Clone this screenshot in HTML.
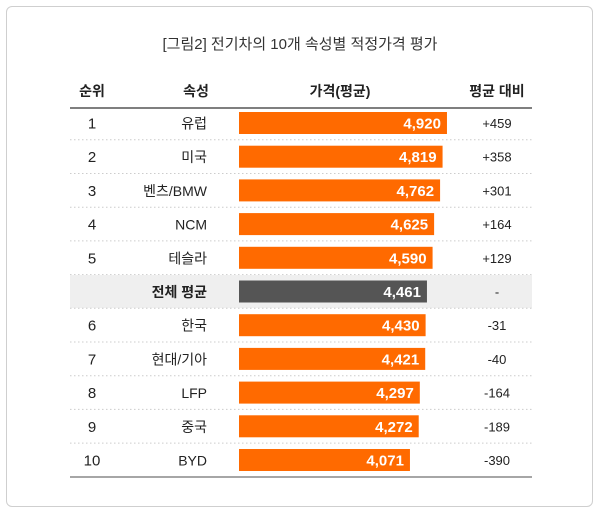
<!DOCTYPE html>
<html><head><meta charset="utf-8"><style>
body{margin:0;background:#fff;width:600px;height:514px;overflow:hidden;font-family:"Liberation Sans","Noto Sans CJK KR",sans-serif;}
#frame{position:absolute;left:6px;top:6px;width:587px;height:501px;border:1px solid #cfcfcf;border-radius:6px;box-sizing:border-box;}
</style></head><body>
<div id="frame"></div>
<svg id="chart" width="600" height="514" style="position:absolute;left:0;top:0"></svg>
<script>
const ranks=["1","2","3","4","5","","6","7","8","9","10"];
const labels=["유럽","미국","벤츠/BMW","NCM","테슬라","전체 평균","한국","현대/기아","LFP","중국","BYD"];
const values=[4920,4819,4762,4625,4590,4461,4430,4421,4297,4272,4071];
const valueLabels=["4,920","4,819","4,762","4,625","4,590","4,461","4,430","4,421","4,297","4,272","4,071"];
const diffs=["+459","+358","+301","+164","+129","-","-31","-40","-164","-189","-390"];
const svg=document.getElementById('chart');
const NS='http://www.w3.org/2000/svg';
function el(t,a,txt){const e=document.createElementNS(NS,t);for(const k in a)e.setAttribute(k,a[k]);if(txt!==undefined)e.textContent=txt;svg.appendChild(e);return e;}
const x0=239,base=150,k=0.0436;
function xw(v){return (v-base)*k;}
function yc(i){return 123+i*33.7;}
let t=el('text',{x:300,y:49,'text-anchor':'middle','font-size':15,fill:'#333'},'[그림2] 전기차의 10개 속성별  적정가격 평가');

const heads=[[92,'순위','header-rank'],[196,'속성','header-attribute'],[340,'가격(평균)','header-price'],[497,'평균 대비','header-diff']];
heads.forEach(h=>{const e=el('text',{x:h[0],y:96,'text-anchor':'middle','font-size':14,'font-weight':'bold',fill:'#222'},h[1]);
});
let l=el('line',{x1:70,x2:532,y1:108,y2:108,stroke:'#555','stroke-width':1.5});

values.forEach((v,i)=>{
 const y=yc(i),avg=ranks[i]==='';
 if(avg){const bg=el('rect',{x:70,y:y-16.5,width:462,height:33,fill:'#efefef'});
  }
 const b=el('rect',{x:x0,y:y-11,width:xw(v),height:22,fill:avg?'#555':'#ff6a00'});
 
 const vt=el('text',{x:x0+xw(v)-6,y:y+5.5,'text-anchor':'end','font-size':15,'font-weight':'bold',fill:'#fff'},valueLabels[i]);
 
 const r=el('text',{x:92,y:y+5.5,'text-anchor':'middle','font-size':15,fill:'#222'},ranks[i]);
 
 const a=el('text',{x:207,y:y+5.5,'text-anchor':'end','font-size':14,'font-weight':avg?'bold':'normal',fill:'#222'},labels[i]);
 
 const d=el('text',{x:497,y:y+5,'text-anchor':'middle','font-size':13,fill:'#222'},diffs[i]);
 
 if(i<values.length-1){const sp=el('line',{x1:70,x2:532,y1:y+16.8,y2:y+16.8,stroke:'#ccc','stroke-width':1,'stroke-dasharray':'1.5,2.5'});
  }
});
let bl=el('line',{x1:70,x2:532,y1:477,y2:477,stroke:'#888','stroke-width':1.5});

</script>
</body></html>
